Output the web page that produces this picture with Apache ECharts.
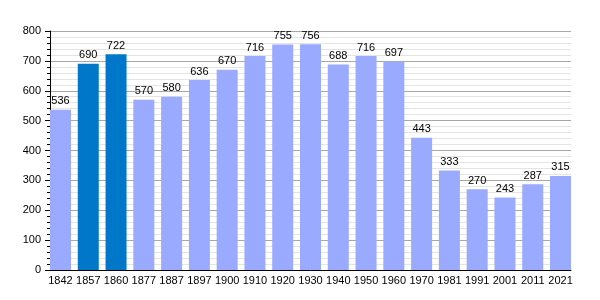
<!DOCTYPE html>
<html><head><meta charset="utf-8">
<script src="https://cdn.jsdelivr.net/npm/echarts@6/dist/echarts.min.js"></script>
<style>html,body{margin:0;padding:0;background:#fff}#c{width:600px;height:300px}</style>
</head><body><div id="c"></div>
<script>
const years = ['1842','1857','1860','1877','1887','1897','1900','1910','1920','1930','1940','1950','1960','1970','1981','1991','2001','2011','2021'];
const population = [536,690,722,570,580,636,670,716,755,756,688,716,697,443,333,270,243,287,315];
const highlighted = ['1857','1860'];
const yTicks = [0,100,200,300,400,500,600,700,800];

const chart = echarts.init(document.getElementById('c'), null, {renderer:'canvas'});
const font = 'Liberation Sans, Arial, sans-serif';
chart.setOption({
  animation:false,
  grid:[
    {left:50, right:29, top:31, bottom:30},
    {left:46.6, right:25.6, top:31, bottom:30}
  ],
  xAxis:[
    {gridIndex:0, type:'category', data:years, axisLine:{show:true, lineStyle:{color:'#000', width:1}},
     axisTick:{show:false}, axisLabel:{show:false}, splitLine:{show:false}},
    {gridIndex:1, type:'category', data:years, axisLine:{show:false}, axisTick:{show:false},
     axisLabel:{show:true, color:'#000', fontSize:11, fontFamily:font, margin:5, interval:0}}
  ],
  yAxis:[
    {gridIndex:0, type:'value', min:yTicks[0], max:yTicks[yTicks.length-1], interval:100,
     axisLine:{show:true, lineStyle:{color:'#000', width:1}},
     axisTick:{show:true, length:5, lineStyle:{color:'#000'}},
     minorTick:{show:true, splitNumber:5, length:3, lineStyle:{color:'#000'}},
     axisLabel:{color:'#000', fontSize:11, fontFamily:font, margin:9},
     splitLine:{show:true, lineStyle:{color:'#a8a8a8', width:1}},
     minorSplitLine:{show:true, lineStyle:{color:'#e4e4e4', width:1}}},
    {gridIndex:1, type:'value', min:yTicks[0], max:yTicks[yTicks.length-1], show:false}
  ],
  series:[{
    type:'bar', xAxisIndex:1, yAxisIndex:1, barWidth:21,
    data: population.map((v,i)=>({value:v, itemStyle:{color: highlighted.includes(years[i]) ? '#0077c8' : '#99aaff'}})),
    label:{show:true, position:'top', distance:3, color:'#000', fontSize:11, fontFamily:font}
  }]
});
</script></body></html>
